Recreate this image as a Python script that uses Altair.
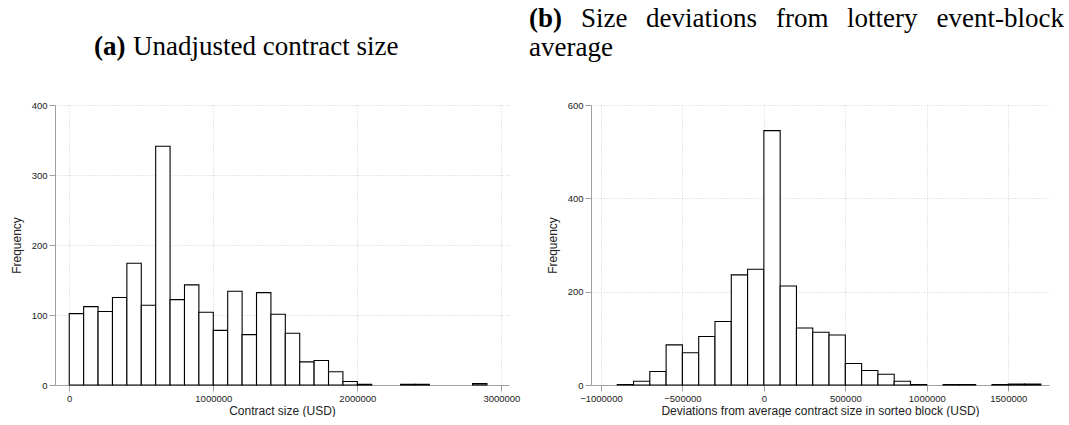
import altair as alt
import pandas as pd

# Panel (a): unadjusted contract size histogram (bin width 100000 USD)
size_bin_start = [0, 100000, 200000, 300000, 400000, 500000, 600000, 700000,
                  800000, 900000, 1000000, 1100000, 1200000, 1300000, 1400000,
                  1500000, 1600000, 1700000, 1800000, 1900000, 2000000,
                  2300000, 2400000, 2800000]
size_count = [102, 112, 105, 125, 174, 114, 341, 122, 143, 104, 78, 134, 72,
              132, 101, 74, 33, 35, 19, 5, 1, 1, 1, 2]
size_ticks = [0, 1000000, 2000000, 3000000]
size_yticks = [0, 100, 200, 300, 400]

# Panel (b): deviations from lottery event-block average
dev_bin_start = [-900000, -800000, -700000, -600000, -500000, -400000, -300000,
                 -200000, -100000, 0, 100000, 200000, 300000, 400000, 500000,
                 600000, 700000, 800000, 900000, 1000000, 1100000, 1200000,
                 1300000, 1400000, 1500000, 1600000]
dev_count = [1, 8, 29, 86, 69, 104, 136, 236, 248, 545, 212, 122, 113, 107,
             46, 31, 23, 8, 1, 0, 1, 1, 0, 1, 2, 2]
dev_ticks = [-1000000, -500000, 0, 500000, 1000000, 1500000]
dev_yticks = [0, 200, 400, 600]

BIN_W = 100000

size_df = pd.DataFrame({"start": size_bin_start, "count": size_count})
dev_df = pd.DataFrame({"start": dev_bin_start, "count": dev_count})
dev_df = dev_df[dev_df["count"] > 0]

TITLE_FONT = "Liberation Serif"
TFS = 27


def hist(df, xdom, xticks, ydom, yticks, xtitle, w, h):
    return alt.Chart(df).transform_calculate(
        end=f"datum.start + {BIN_W}"
    ).mark_bar(fill="white", stroke="black", strokeWidth=1.1).encode(
        x=alt.X("start:Q", scale=alt.Scale(domain=xdom, nice=False, zero=False),
                axis=alt.Axis(values=xticks, format="d", title=xtitle,
                              labelFlush=False, labelOverlap=False)),
        x2="end:Q",
        y=alt.Y("count:Q", scale=alt.Scale(domain=ydom, nice=False),
                axis=alt.Axis(values=yticks, format="d", title="Frequency",
                              labelAngle=0)),
        y2=alt.datum(0),
    ).properties(width=w, height=h)


def label(text, x, y, bold=False, align="left", size=TFS):
    return alt.Chart(alt.Data(values=[{"t": text}])).mark_text(
        font=TITLE_FONT, fontSize=size, align=align, baseline="middle",
        fontWeight="bold" if bold else "normal", color="black"
    ).encode(text="t:N", x=alt.value(x), y=alt.value(y))


left = alt.layer(
    hist(size_df, [-99000, 3053000], size_ticks, [0, 400], size_yticks,
         "Contract size (USD)", 454, 280),
    label("(a)", 39, -58, bold=True),
    label("Unadjusted contract size", 78, -58),
)

# justified first line of caption (b)
right = alt.layer(
    hist(dev_df, [-1061000, 1750000], dev_ticks, [0, 600], dev_yticks,
         "Deviations from average contract size in sorteo block (USD)", 458, 280),
    label("(b)", -62, -86, bold=True),
    label("Size", -10, -86),
    label("deviations", 55, -86),
    label("from", 185, -86),
    label("lottery", 256, -86),
    label("event-block", 473, -86, align="right"),
    label("average", -62, -57),
)

chart = alt.hconcat(left, right, spacing=9).properties(
    padding={"left": 10, "top": 5, "right": 0, "bottom": 0},
    background="white",
).configure_view(stroke=None).configure_axis(
    labelFont="Liberation Sans", labelFontSize=9.5, labelColor="#222",
    titleFont="Liberation Sans", titleFontSize=12, titleFontWeight="normal",
    titleColor="#222", domainColor="#a0a0a0", tickColor="#a0a0a0",
    tickSize=6, labelPadding=2, gridColor="#d0d0d0", gridDash=[1, 2],
    gridWidth=1, domainWidth=1,
).configure_axisY(titlePadding=8).configure_axisX(titlePadding=3)

chart.save("out.html", embed_options={"renderer": "svg", "actions": False})
